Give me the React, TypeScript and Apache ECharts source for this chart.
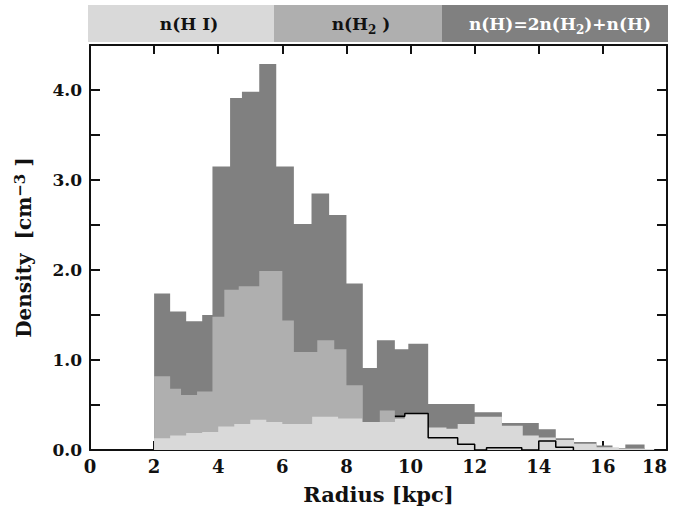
import React, { useEffect, useRef } from "react";
import * as echarts from "echarts";

// ---- data ----
// n(H) = 2 n(H2) + n(HI): dark histogram
const totalEdges = [2.0, 2.5, 3.0, 3.5, 3.82, 4.37, 4.74, 5.28, 5.81, 6.36, 6.91, 7.46, 8.0, 8.51, 8.95, 9.51, 9.93, 10.55, 12.0, 12.85, 14.0, 14.53, 15.1, 15.8, 16.3, 16.7, 17.3];
const totalValues = [1.74, 1.54, 1.43, 1.5, 3.15, 3.91, 3.98, 4.29, 3.15, 2.51, 2.85, 2.61, 1.85, 0.91, 1.22, 1.12, 1.18, 0.51, 0.42, 0.3, 0.23, 0.13, 0.09, 0.05, 0.02, 0.06];
// n(H2): medium histogram
const h2Edges = [2.0, 2.5, 2.84, 3.34, 3.82, 4.19, 4.64, 5.28, 6.0, 6.36, 7.09, 7.62, 8.0, 8.51, 9.04, 9.51, 10.55, 12.0, 13.63, 14.53, 15.8, 17.3];
const h2Values = [0.82, 0.68, 0.61, 0.65, 1.48, 1.78, 1.82, 1.99, 1.44, 1.09, 1.22, 1.12, 0.72, 0.3, 0.44, 0.25, 0.2, 0.15, 0.1, 0.05, 0.02];
// n(HI): light histogram
const hiEdges = [2.0, 2.5, 3.0, 3.5, 4.0, 4.5, 5.0, 5.5, 6.0, 6.93, 7.74, 8.49, 9.04, 9.51, 9.82, 10.55, 11.12, 11.47, 12.0, 12.85, 13.5, 14.0, 14.53, 15.1, 15.8, 16.5, 17.6];
const hiValues = [0.13, 0.16, 0.19, 0.2, 0.26, 0.29, 0.335, 0.31, 0.29, 0.37, 0.35, 0.31, 0.31, 0.35, 0.4, 0.25, 0.235, 0.29, 0.37, 0.27, 0.16, 0.14, 0.11, 0.07, 0.03, 0.01];
// black outline histogram
const outlineEdges = [9.51, 9.82, 10.55, 11.47, 12.0, 12.37, 13.47, 14.0, 14.53, 15.08];
const outlineValues = [0.375, 0.405, 0.135, 0.065, 0.0, 0.025, 0.0, 0.1, 0.03];

const legendItems = [
  { text: "{a|n(H I)}", x: 189, bg: "#d9d9d9", color: "#111" },
  { text: "{a|n(H}{s|2}{a| )}", x: 361, bg: "#afafaf", color: "#111" },
  { text: "{a|n(H)=2n(H}{s|2}{a|)+n(H)}", x: 560, bg: "#808080", color: "#fff" },
];
const legendEdges = [88, 274, 442, 668];

const FONT = "DejaVu Serif";

function stepData(edges: number[], values: number[]) {
  const pts = values.map((v, i) => [edges[i], v]);
  pts.push([edges[edges.length - 1], values[values.length - 1]]);
  return pts;
}

export default function App() {
  const ref = useRef<HTMLDivElement>(null);
  useEffect(() => {
    if (!ref.current) return;
    const chart = echarts.init(ref.current, null, { renderer: "svg" });
    const outline = stepData(outlineEdges, outlineValues);
    outline.push([outlineEdges[outlineEdges.length - 1], 0]);

    const areaSeries = (data: number[][], color: string, z: number) => ({
      type: "line",
      step: "end",
      data,
      symbol: "none",
      silent: true,
      z,
      lineStyle: { width: 0, color },
      itemStyle: { color },
      areaStyle: { color, opacity: 1 },
    });

    const labelStyle = { fontFamily: FONT, fontWeight: "bold", color: "#111" };
    const line = { show: true, onZero: false, lineStyle: { color: "#111", width: 2 } };

    chart.setOption({
      animation: false,
      grid: { left: 90, right: 6, top: 45, bottom: 62, outerBoundsMode: "none", containLabel: false },
      xAxis: [
        {
          type: "value",
          min: 0,
          max: 18,
          interval: 2,
          position: "bottom",
          name: "Radius [kpc]",
          nameLocation: "middle",
          nameGap: 34,
          nameTextStyle: { ...labelStyle, fontSize: 21 },
          axisLine: line,
          axisTick: { show: true, inside: true, length: 9, lineStyle: { color: "#111", width: 2 } },
          axisLabel: { ...labelStyle, fontSize: 18, margin: 7, alignMaxLabel: "right" },
          splitLine: { show: false },
        },
        {
          type: "value",
          min: 0,
          max: 18,
          interval: 2,
          position: "top",
          axisLine: line,
          axisTick: { show: true, inside: true, length: 9, lineStyle: { color: "#111", width: 2 } },
          axisLabel: { show: false },
          splitLine: { show: false },
        },
      ],
      yAxis: [
        {
          type: "value",
          min: 0,
          max: 4.5,
          interval: 0.5,
          position: "left",
          name: "{b|Density  [cm}{sup|−3}{b| ]}",
          nameLocation: "middle",
          nameRotate: 90,
          nameGap: 56,
          nameTextStyle: {
            rich: {
              b: { ...labelStyle, fontSize: 20, lineHeight: 22, verticalAlign: "bottom" },
              sup: { ...labelStyle, fontSize: 15, lineHeight: 22, verticalAlign: "top" },
            },
          },
          axisLine: line,
          axisTick: { show: true, inside: true, length: 10, lineStyle: { color: "#111", width: 2 } },
          axisLabel: {
            ...labelStyle,
            fontSize: 17,
            margin: 8,
            formatter: (v: number) => (Math.abs(v - Math.round(v)) < 1e-6 ? v.toFixed(1) : ""),
          },
          splitLine: { show: false },
        },
        {
          type: "value",
          min: 0,
          max: 4.5,
          interval: 0.5,
          position: "right",
          axisLine: line,
          axisTick: { show: true, inside: true, length: 10, lineStyle: { color: "#111", width: 2 } },
          axisLabel: { show: false },
          splitLine: { show: false },
        },
      ],
      series: [
        areaSeries(stepData(totalEdges, totalValues), "#808080", 1),
        areaSeries(stepData(h2Edges, h2Values), "#afafaf", 2),
        areaSeries(stepData(hiEdges, hiValues), "#d9d9d9", 3),
        {
          type: "line",
          step: "end",
          data: outline,
          symbol: "none",
          silent: true,
          z: 4,
          lineStyle: { width: 1.5, color: "#000" },
          itemStyle: { color: "#000" },
        },
      ],
      graphic: [
        ...legendItems.map((it, i) => ({
          type: "rect",
          shape: { x: legendEdges[i], y: 5, width: legendEdges[i + 1] - legendEdges[i], height: 37 },
          style: { fill: it.bg },
          silent: true,
        })),
        ...legendItems.map((it) => ({
          type: "text",
          x: it.x,
          y: 24,
          silent: true,
          style: {
            text: it.text,
            align: "center",
            verticalAlign: "middle",
            rich: {
              a: { fontFamily: FONT, fontWeight: "bold", fontSize: 17, lineHeight: 22, fill: it.color, verticalAlign: "middle" },
              s: { fontFamily: FONT, fontWeight: "bold", fontSize: 12, lineHeight: 24, fill: it.color, verticalAlign: "bottom" },
            },
          },
        })),
      ],
    });
    return () => chart.dispose();
  }, []);
  return <div ref={ref} style={{ width: 673, height: 512, position: "absolute", left: 0, top: 0 }} />;
}
